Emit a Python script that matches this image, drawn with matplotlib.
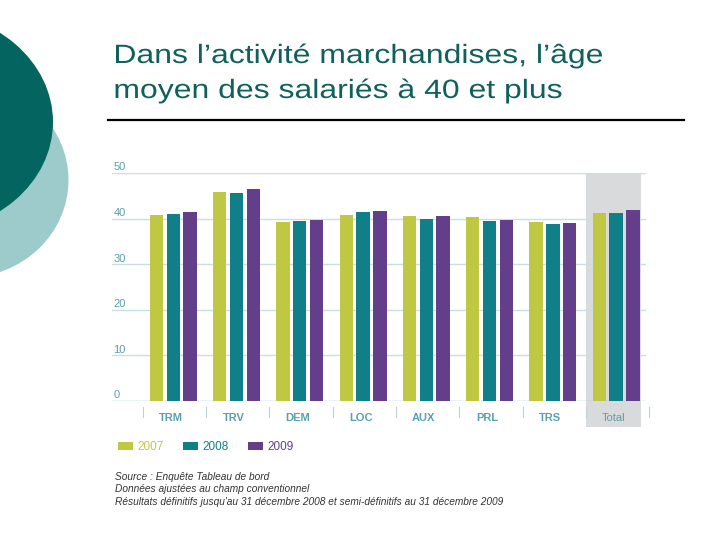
import matplotlib
matplotlib.use("Agg")
import matplotlib.pyplot as plt
from matplotlib.patches import Rectangle, Ellipse, PathPatch
from matplotlib.textpath import TextPath
from matplotlib.font_manager import FontProperties
from matplotlib.transforms import Affine2D
import numpy as np

# données
categories = ["TRM", "TRV", "DEM", "LOC", "AUX", "PRL", "TRS", "Total"]
years = ["2007", "2008", "2009"]
age_2007 = [40.7, 45.9, 39.2, 40.9, 40.5, 40.4, 39.3, 41.3]
age_2008 = [41.1, 45.6, 39.4, 41.4, 40.0, 39.4, 38.8, 41.3]
age_2009 = [41.5, 46.5, 39.6, 41.6, 40.5, 39.6, 39.1, 41.8]
yticks = [0, 10, 20, 30, 40, 50]
title_lines = ["Dans l\u2019activité marchandises, l\u2019âge",
               "moyen des salariés à 40 et plus"]
source_lines = [
    "Source : Enquête Tableau de bord",
    "Données ajustées au champ conventionnel",
    "Résultats définitifs jusqu'au 31 décembre 2008 et semi-définitifs au 31 décembre 2009",
]

colors = ["#c0c843", "#117f88", "#633e8b"]
label_col = "#5a9fab"
grid_col = "#c9dfe3"

plt.rcParams["font.family"] = ["Liberation Sans", "DejaVu Sans"]

fig = plt.figure(figsize=(7.2, 5.4), dpi=100)

# fond décoratif en coordonnées pixels
bg = fig.add_axes([0, 0, 1, 1])
bg.set_xlim(0, 720)
bg.set_ylim(540, 0)
bg.axis("off")
bg.add_patch(Ellipse((-34, 180), 205, 195, color="#9dcbcb", lw=0))
bg.add_patch(Ellipse((-78, 122), 262, 222, color="#04645f", lw=0))
bg.plot([108, 684], [120, 120], color="black", lw=1.6)

# titre un peu étiré en largeur comme sur l'image
fp = FontProperties(family="Liberation Sans")
paths = [TextPath((0, 0), s, size=26.5, prop=fp) for s in title_lines]
x0, x1 = paths[0].get_extents().x0, paths[0].get_extents().x1
sx = 486 / (x1 - x0)
for p, base in zip(paths, [63, 98]):
    tr = Affine2D().scale(sx, -1).translate(116 - x0 * sx, base)
    bg.add_patch(PathPatch(tr.transform_path(p), color="#10605b", lw=0))

# légende
lx = 118
for yr, c in zip(years, colors):
    bg.add_patch(Rectangle((lx, 442), 15, 8, color=c, lw=0))
    bg.text(lx + 19, 446.5, yr, fontsize=8.5, color=c, va="center")
    lx += 65

for i, line in enumerate(source_lines):
    bg.text(115, 477 + i * 12.5, line, fontsize=7.3, style="italic",
            color="#333333", va="center")

# graphique
ax = fig.add_axes([0.156, 0.2574, 0.741, 0.4222])
x = np.arange(len(categories))
w = 0.21
pitch = 0.265
xmin, xmax = -0.965, len(categories) - 1 + 0.47
ax.set_xlim(xmin, xmax)
ax.set_ylim(0, 50)

# zone grisée du total
ax.add_patch(Rectangle((x[-1] - 0.48, -5.8), 0.87, 55.8, color="#d9dadb",
                       lw=0, clip_on=False, zorder=0))

for yv in yticks:
    ax.axhline(yv, color="#9fc6cd" if yv == 0 else grid_col, lw=1, zorder=1)
    ax.text(xmin + 0.02, yv + 0.15, str(yv), fontsize=8, color=label_col,
            va="bottom", ha="left")

for k, (vals, c) in enumerate(zip([age_2007, age_2008, age_2009], colors)):
    ax.bar(x + (k - 1) * pitch, vals, width=w, color=c, zorder=2)

for i in range(len(categories) + 1):
    ax.plot([i - 0.48, i - 0.48], [-1.4, -3.6], color="#b8d3d8", lw=0.8,
            clip_on=False)
for xi, cat in zip(x, categories):
    ax.text(xi - 0.04, -3.8, cat, fontsize=8, color=label_col, ha="center",
            va="center", fontweight="bold" if cat != "Total" else "normal")

ax.axis("off")

fig.savefig("out.png", dpi=100)
